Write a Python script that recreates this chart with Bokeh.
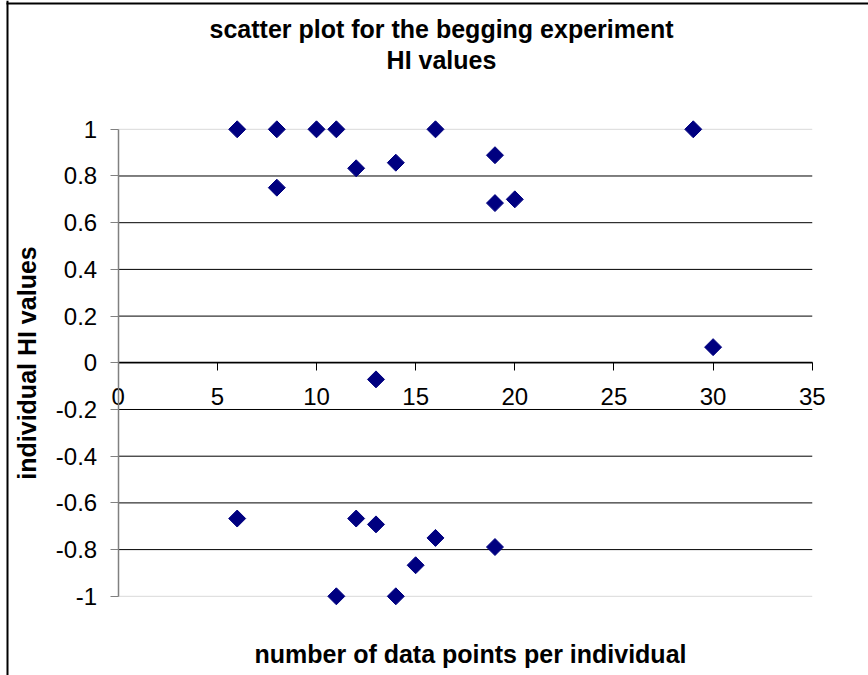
from bokeh.plotting import figure
from bokeh.models import Range1d, LinearAxis, FixedTicker, Label, BoxAnnotation
from bokeh.embed import file_html
from bokeh.resources import INLINE
import numpy as np

# number of data points per individual (x) and individual HI value (y)
n_points = [6, 8, 10, 11, 16, 29, 8, 12, 14, 19, 19, 20, 13, 30,
            6, 11, 12, 13, 14, 15, 16, 19]
hi_values = [1, 1, 1, 1, 1, 1, 0.75, 0.833, 0.857, 0.889, 0.684, 0.7, -0.071, 0.067,
             -0.667, -1, -0.667, -0.692, -1, -0.867, -0.75, -0.789]

x_ticks = [0, 5, 10, 15, 20, 25, 30, 35]
y_ticks = [-1, -0.8, -0.6, -0.4, -0.2, 0, 0.2, 0.4, 0.6, 0.8, 1]
y_tick_labels = ["-1", "-0.8", "-0.6", "-0.4", "-0.2", "0", "0.2", "0.4", "0.6", "0.8", "1"]

FONT = "Liberation Sans"
W, H = 868, 675

# the frame fills the whole canvas; both axes cross at the origin
p = figure(width=W, height=H, output_backend="svg", toolbar_location=None,
           x_range=Range1d(-5.935, 37.836), y_range=Range1d(-1.3392, 1.5516),
           x_axis_location=None, y_axis_location=None,
           min_border=0, min_border_left=0, min_border_right=0,
           min_border_top=0, min_border_bottom=0)
p.outline_line_color = None
p.background_fill_color = "white"
p.border_fill_color = "white"
p.xgrid.visible = False
p.ygrid.visible = False

# horizontal gridlines across the x extent of the plot area
grid_colors = ["#d9d9d9" if abs(t) == 1 else "black" for t in y_ticks]
p.segment(x0=x_ticks[0], x1=x_ticks[-1], y0=y_ticks, y1=y_ticks,
          line_color=grid_colors, line_width=1, level="underlay")

# y axis at x = 0
yaxis = LinearAxis(ticker=FixedTicker(ticks=y_ticks), bounds=(-1, 1), fixed_location=0,
                   axis_label="individual HI values",
                   axis_label_text_font=FONT, axis_label_text_font_style="bold",
                   axis_label_text_font_size="25px", axis_label_text_color="black",
                   axis_label_standoff=12,
                   major_label_text_font=FONT, major_label_text_font_size="24px",
                   major_label_text_color="black", major_label_standoff=13,
                   axis_line_color="#808080", axis_line_width=1.5,
                   major_tick_line_color="#808080", major_tick_in=0, major_tick_out=8,
                   minor_tick_line_color=None)
yaxis.major_label_overrides = {t: lab for t, lab in zip(y_ticks, y_tick_labels)}
p.add_layout(yaxis, "left")

# x axis at y = 0
xaxis = LinearAxis(ticker=FixedTicker(ticks=x_ticks), bounds=(0, 35), fixed_location=0,
                   major_label_text_font=FONT, major_label_text_font_size="24px",
                   major_label_text_color="black", major_label_standoff=17,
                   axis_line_color="black", axis_line_width=1.5,
                   major_tick_line_color="black", major_tick_in=0, major_tick_out=8,
                   minor_tick_line_color=None)
p.add_layout(xaxis, "below")

# chart title and x axis title
title_style = dict(x_units="canvas", y_units="canvas", text_font=FONT,
                   text_font_size="25px", text_font_style="bold", text_color="black",
                   text_align="center", text_baseline="middle")
p.add_layout(Label(x=441, y=28, text="scatter plot for the begging experiment", **title_style))
p.add_layout(Label(x=441, y=59, text="HI values", **title_style))
p.add_layout(Label(x=470, y=653, text="number of data points per individual", **title_style))

# diamond markers
p.scatter(n_points, hi_values, marker="square", angle=np.pi / 4, size=12,
          fill_color="#000080", line_color="#000080")

# chart area border (top and left edges)
border = dict(left_units="canvas", right_units="canvas", top_units="canvas",
              bottom_units="canvas", fill_color="black", fill_alpha=1, line_color=None)
p.add_layout(BoxAnnotation(left=6, right=8, top=0, bottom=H, **border))
p.add_layout(BoxAnnotation(left=6, right=W, top=2, bottom=4, **border))

open("out.html", "w").write(file_html(p, INLINE))
